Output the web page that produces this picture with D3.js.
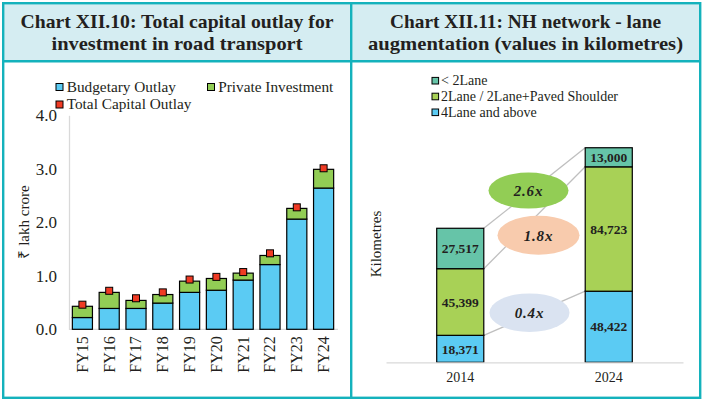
<!DOCTYPE html>
<html>
<head>
<meta charset="utf-8">
<script src="https://cdn.jsdelivr.net/npm/d3@7"></script>
<style>
  html, body { margin: 0; padding: 0; background: #fff; }
  svg { display: block; }
  text { font-family: "Liberation Serif", "Times New Roman", serif; fill: #231F20; }
</style>
</head>
<body>
<svg id="chart" width="703" height="401"></svg>
<script>
// ---------- DATA ----------
const fyears = ["FY15","FY16","FY17","FY18","FY19","FY20","FY21","FY22","FY23","FY24"];
const budgetaryOutlay = [0.22, 0.39, 0.39, 0.49, 0.69, 0.73, 0.92, 1.21, 2.06, 2.64];
const privateInvestment = [0.21, 0.30, 0.15, 0.16, 0.21, 0.22, 0.13, 0.17, 0.20, 0.35];
const totalCapitalOutlay = [0.46, 0.72, 0.58, 0.69, 0.93, 0.98, 1.07, 1.42, 2.28, 3.01];
const yTickValues = [0, 1, 2, 3, 4];

const laneYears = ["2014", "2024"];
const fourLaneAbove = [18371, 48422];
const twoLanePaved = [45399, 84723];
const lessThanTwoLane = [27517, 13000];
const growthLabels = ["2.6x", "1.8x", "0.4x"];
const growthLevels = [117000, 86500, 33800];

const leftTitle = ["Chart XII.10: Total capital outlay for", "investment in road transport"];
const rightTitle = ["Chart XII.11: NH network - lane", "augmentation (values in kilometres)"];

// ---------- STYLE ----------
const TEAL = "#14B2BC", HEAD = "#D5EDF2";
const C_BLUE = "#5BCBF3", C_GREEN = "#92CD55", C_RED = "#EF3B24";
const C_TEAL2 = "#66C4A8", C_GREEN2 = "#A8D156";

const svg = d3.select("#chart");
svg.append("rect").attr("width", 703).attr("height", 401).attr("fill", "#fff");

// header background
svg.append("rect").attr("x", 3).attr("y", 3).attr("width", 697).attr("height", 58).attr("fill", HEAD);
// frame
const frame = svg.append("g").attr("stroke", TEAL).attr("stroke-width", 2.4).attr("fill", "none");
frame.append("rect").attr("x", 3.2).attr("y", 3.2).attr("width", 697).attr("height", 394.6);
frame.append("line").attr("x1", 3).attr("x2", 700).attr("y1", 61.2).attr("y2", 61.2);
frame.append("line").attr("x1", 351.2).attr("x2", 351.2).attr("y1", 3).attr("y2", 398);

// titles
function title(lines, cx, widths) {
  lines.forEach((t, i) => {
    svg.append("text").attr("x", cx).attr("y", 28.3 + i * 21.7)
      .attr("text-anchor", "middle").attr("font-weight", "bold").attr("font-size", 19.5)
      .attr("textLength", widths[i]).attr("lengthAdjust", "spacingAndGlyphs")
      .text(t);
  });
}
title(leftTitle, 177, [313, 251]);
title(rightTitle, 525.5, [271, 315]);

// ---------- LEFT CHART ----------
const x = d3.scaleBand().domain(fyears).range([69, 337]).paddingInner(0.25).paddingOuter(0.125);
const y = d3.scaleLinear().domain([0, 4]).range([329.3, 115.3]);

const yAxis = svg.append("g").attr("transform", "translate(69,0)")
  .call(d3.axisLeft(y).tickValues(yTickValues).tickFormat(d3.format(".1f")).tickSize(0).tickPadding(12));
yAxis.select(".domain").attr("stroke", "#D9D9D9").attr("stroke-width", 1.3);
yAxis.selectAll("text").attr("font-size", 17).attr("font-family", "Liberation Serif").attr("fill", "#231F20");

const xAxis = svg.append("g").attr("transform", "translate(0,329.3)")
  .call(d3.axisBottom(x).tickSize(0).tickSizeOuter(0));
xAxis.select(".domain").attr("stroke", "#D9D9D9").attr("stroke-width", 1.3).attr("d", "M69,0H338");
xAxis.selectAll("text").attr("font-size", 16).attr("font-family", "Liberation Serif").attr("fill", "#231F20")
  .attr("text-anchor", "end").attr("transform", "translate(0,7) rotate(-90)").attr("dx", 0).attr("dy", "0.34em").attr("y", 0);

const bars = svg.append("g").attr("stroke", "#000").attr("stroke-width", 1.2);
fyears.forEach((fy, i) => {
  const b = budgetaryOutlay[i], p = privateInvestment[i];
  bars.append("rect").attr("x", x(fy)).attr("width", x.bandwidth())
    .attr("y", y(b)).attr("height", y(0) - y(b)).attr("fill", C_BLUE);
  bars.append("rect").attr("x", x(fy)).attr("width", x.bandwidth())
    .attr("y", y(b + p)).attr("height", y(b) - y(b + p)).attr("fill", C_GREEN);
});
const ms = 7;
svg.append("g").selectAll("rect").data(fyears).join("rect")
  .attr("x", d => x(d) + x.bandwidth() / 2 - ms / 2)
  .attr("y", (d, i) => y(totalCapitalOutlay[i]) - ms / 2)
  .attr("width", ms).attr("height", ms)
  .attr("fill", C_RED).attr("stroke", "#000").attr("stroke-width", 1);

// y title
svg.append("text").attr("transform", "translate(29,222) rotate(-90)").attr("text-anchor", "middle")
  .attr("font-size", 15).text("₹ lakh crore");

// left legend
const leftLegend = [
  { label: "Budgetary Outlay", color: C_BLUE, x: 56, y: 87 },
  { label: "Private Investment", color: C_GREEN, x: 207.5, y: 87 },
  { label: "Total Capital Outlay", color: C_RED, x: 56, y: 104.5 }
];
leftLegend.forEach(l => {
  svg.append("rect").attr("x", l.x).attr("y", l.y - 3.5).attr("width", 7).attr("height", 7)
    .attr("fill", l.color).attr("stroke", "#000").attr("stroke-width", 1);
  svg.append("text").attr("x", l.x + 10.7).attr("y", l.y + 4.5).attr("font-size", 15.3).text(l.label);
});

// ---------- RIGHT CHART ----------
const x2 = d3.scaleBand().domain(laneYears).range([386, 683]).paddingInner(0.683).paddingOuter(0.3415);
const y2 = d3.scaleLinear().domain([0, 160000]).range([362.3, 127.4]);
const bw = x2.bandwidth();

const segs = [
  { vals: fourLaneAbove, color: C_BLUE },
  { vals: twoLanePaved, color: C_GREEN2 },
  { vals: lessThanTwoLane, color: C_TEAL2 }
];
const cum = laneYears.map(() => 0);
const segRects = [];
segs.forEach(s => {
  laneYears.forEach((yr, j) => {
    const lo = cum[j], hi = cum[j] + s.vals[j];
    segRects.push({ yr, lo, hi, v: s.vals[j], color: s.color });
    cum[j] = hi;
  });
});

// connecting lines (segment tops)
const tops = [];
{
  const c = [0, 0];
  segs.forEach(s => { c[0] += s.vals[0]; c[1] += s.vals[1]; tops.push([c[0], c[1]]); });
}
svg.append("g").selectAll("line").data(tops).join("line")
  .attr("x1", x2(laneYears[0]) + bw).attr("y1", d => y2(d[0]))
  .attr("x2", x2(laneYears[1])).attr("y2", d => y2(d[1]))
  .attr("stroke", "#BFBFBF").attr("stroke-width", 1.3);

// growth ellipses
const midX = (x2(laneYears[0]) + bw + x2(laneYears[1])) / 2;
const ellStyle = [
  { fill: "#92CD55", dx: -6, rx: 40, ry: 18 },
  { fill: "#F8CBAD", dx: 4, rx: 41, ry: 19.5 },
  { fill: "#DAE3F1", dx: -5, rx: 40, ry: 19.3 }
];
growthLabels.forEach((g, i) => {
  const cx = midX + ellStyle[i].dx, cy = y2(growthLevels[i]);
  svg.append("ellipse").attr("cx", cx).attr("cy", cy).attr("rx", ellStyle[i].rx).attr("ry", ellStyle[i].ry)
    .attr("fill", ellStyle[i].fill);
  svg.append("text").attr("x", cx).attr("y", cy).attr("dy", "0.35em").attr("text-anchor", "middle")
    .attr("font-size", 15).attr("font-weight", "bold").attr("font-style", "italic")
    .attr("letter-spacing", 0.8).attr("fill", "#2b2b2b").text(g);
});

// bars
svg.append("g").selectAll("rect").data(segRects).join("rect")
  .attr("x", d => x2(d.yr)).attr("width", bw)
  .attr("y", d => y2(d.hi)).attr("height", d => y2(d.lo) - y2(d.hi))
  .attr("fill", d => d.color).attr("stroke", "#000").attr("stroke-width", 1.2);
svg.append("g").selectAll("text").data(segRects).join("text")
  .attr("x", d => x2(d.yr) + bw / 2).attr("y", d => (y2(d.lo) + y2(d.hi)) / 2).attr("dy", "0.35em")
  .attr("text-anchor", "middle").attr("font-size", 13.5).attr("font-weight", "bold")
  .text(d => d3.format(",")(d.v));

// x axis right
const xAxis2 = svg.append("g").attr("transform", "translate(0,362.3)")
  .call(d3.axisBottom(x2).tickSize(0).tickSizeOuter(0).tickPadding(10));
xAxis2.select(".domain").attr("stroke", "#D9D9D9").attr("stroke-width", 1.3);
xAxis2.selectAll("text").attr("font-size", 14).attr("font-family", "Liberation Serif").attr("fill", "#231F20");

// y title right
svg.append("text").attr("transform", "translate(381,244) rotate(-90)").attr("text-anchor", "middle")
  .attr("font-size", 15).attr("fill", "#333").text("Kilometres");

// right legend
const rightLegend = [
  { label: "< 2Lane", color: C_TEAL2 },
  { label: "2Lane / 2Lane+Paved Shoulder", color: C_GREEN2 },
  { label: "4Lane and above", color: C_BLUE }
];
rightLegend.forEach((l, i) => {
  const cy = 80.7 + i * 15.8;
  svg.append("rect").attr("x", 432).attr("y", cy - 3.3).attr("width", 6.6).attr("height", 6.6)
    .attr("fill", l.color).attr("stroke", "#000").attr("stroke-width", 1);
  svg.append("text").attr("x", 441).attr("y", cy + 4.6).attr("font-size", 14).text(l.label);
});
</script>
</body>
</html>
